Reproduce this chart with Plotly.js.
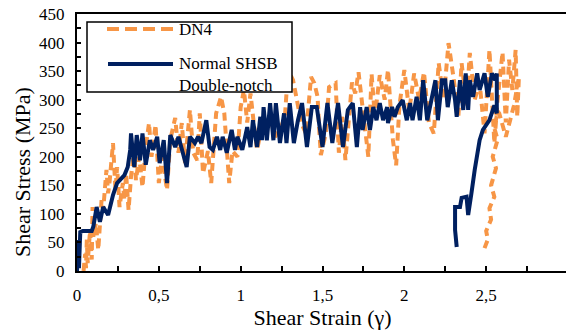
<!DOCTYPE html>
<html><head><meta charset="utf-8">
<script src="https://cdn.plot.ly/plotly-3.0.1.min.js"></script>
<style>body{margin:0;overflow:hidden}</style></head>
<body>
<div id="chart" style="width:570px;height:330px"></div>
<script>
// ---- Data ----
const seriesNames = ["DN4", "Normal SHSB", "Double-notch"];
const axisTitles = ["Shear Strain (γ)", "Shear Stress (MPa)"];

const dn4Strain = [0.04,0.05,0.055,0.06,0.065,0.07,0.08,0.09,0.095,0.10,0.115,0.13,0.14,0.15,0.16,0.18,0.19,0.20,0.22,0.235,0.245,0.26,0.28,0.29,0.30,0.315,0.33,0.35,0.36,0.38,0.40,0.42,0.44,0.455,0.48,0.50,0.52,0.55,0.57,0.60,0.62,0.64,0.66,0.69,0.71,0.735,0.75,0.77,0.80,0.82,0.85,0.88,0.90,0.93,0.95,0.98,1.0,1.02,1.04,1.06,1.08,1.10,1.12,1.15,1.18,1.21,1.24,1.27,1.29,1.32,1.34,1.37,1.40,1.43,1.45,1.47,1.48,1.49,1.52,1.54,1.58,1.60,1.62,1.64,1.68,1.70,1.72,1.76,1.78,1.80,1.82,1.85,1.88,1.90,1.93,1.95,1.97,2.0,2.03,2.06,2.09,2.12,2.15,2.18,2.21,2.24,2.27,2.30,2.33,2.35,2.38,2.40,2.43,2.46,2.49,2.52,2.55,2.57,2.60,2.62,2.64,2.66,2.68,2.69,2.70,2.67,2.62,2.58,2.57,2.55,2.57,2.54,2.56,2.53,2.55,2.52,2.53,2.50,2.51,2.49];
const dn4Stress = [0,30,5,55,14,42,72,20,112,60,84,37,89,124,107,177,136,159,224,142,182,112,154,124,171,107,165,212,159,200,147,217,259,200,256,154,200,142,230,268,207,259,189,282,207,194,276,171,210,154,276,305,276,154,210,200,287,317,260,311,259,212,240,252,270,235,247,270,352,334,305,259,240,340,329,305,247,203,241,322,329,207,270,194,330,311,348,247,200,345,270,343,300,352,230,185,290,352,280,346,300,348,260,241,364,300,399,340,270,364,290,382,300,330,241,387,224,300,383,260,370,317,387,270,340,290,235,276,280,250,230,200,180,150,130,110,90,70,55,40];

const shsbStrain = [0,0.005,0.012,0.02,0.035,0.09,0.10,0.12,0.14,0.16,0.19,0.22,0.245,0.29,0.31,0.325,0.33,0.35,0.365,0.385,0.40,0.42,0.445,0.465,0.49,0.505,0.53,0.55,0.57,0.60,0.62,0.64,0.67,0.69,0.72,0.74,0.76,0.79,0.81,0.83,0.855,0.875,0.89,0.915,0.945,0.965,0.98,1.01,1.04,1.06,1.075,1.10,1.12,1.13,1.14,1.16,1.18,1.20,1.215,1.24,1.265,1.28,1.30,1.325,1.35,1.375,1.405,1.435,1.465,1.50,1.53,1.56,1.595,1.625,1.655,1.685,1.71,1.73,1.745,1.77,1.79,1.81,1.83,1.85,1.87,1.895,1.90,1.925,1.94,1.96,1.99,2.015,2.035,2.05,2.075,2.095,2.115,2.14,2.17,2.19,2.205,2.23,2.25,2.265,2.29,2.31,2.32,2.34,2.36,2.375,2.39,2.40,2.42,2.445,2.46,2.49,2.51,2.535,2.555,2.565,2.565,2.55,2.52,2.48,2.46,2.445,2.43,2.41,2.39,2.38,2.35,2.34,2.31,2.31,2.32];
const shsbStress = [0,54,5,68,70,70,78,112,86,112,98,133,154,168,182,212,241,182,238,194,241,186,229,212,235,189,229,154,238,217,235,212,182,235,224,235,224,264,217,212,235,212,235,207,247,212,235,212,252,217,264,217,270,229,287,229,294,229,294,224,276,224,294,224,264,294,217,287,287,217,294,224,294,217,282,294,217,287,247,287,247,287,264,294,264,287,259,287,270,287,299,264,294,264,305,264,334,264,305,334,264,334,334,287,334,299,270,334,282,346,282,334,305,346,317,346,305,346,334,346,276,290,264,247,229,207,177,136,98,130,128,112,112,72,42];

const xTickVals = [0,0.5,1,1.5,2,2.5,3];
const xTickText = ["0","0,5","1","1,5","2","2,5","3"];

const NAVY = "#002060";
const ORANGE = "#F79646";
const SERIF = "Liberation Serif";

const px2x = p => (p - 77) / 491;
const py2y = p => (271 - p) / 257;

Plotly.newPlot("chart", [
  {x: dn4Strain, y: dn4Stress, name: seriesNames[0], type: "scatter", mode: "lines",
   line: {color: ORANGE, width: 4, dash: "8px,5px"}},
  {x: shsbStrain, y: shsbStress, name: seriesNames[1] + " " + seriesNames[2], type: "scatter", mode: "lines",
   line: {color: NAVY, width: 4}}
], {
  width: 570, height: 330,
  margin: {l: 77, r: 2, t: 14, b: 59},
  showlegend: false,
  separators: ", ",
  xaxis: {
    range: [0, 3], tickvals: xTickVals, ticktext: xTickText,
    showgrid: false, zeroline: false,
    showline: true, linecolor: "#000", linewidth: 2, mirror: true,
    ticks: "inside", ticklen: 5, tickwidth: 2, tickcolor: "#000",
    minor: {dtick: 0.25, ticks: "inside", ticklen: 5, tickwidth: 2, tickcolor: "#000"},
    ticklabelstandoff: 8,
    tickfont: {family: SERIF, size: 17, color: "#000"},
    title: {text: axisTitles[0], font: {family: SERIF, size: 22, color: "#000"}, standoff: 0}
  },
  yaxis: {
    range: [0, 450], dtick: 50,
    showgrid: false, zeroline: false,
    showline: true, linecolor: "#000", linewidth: 2, mirror: true,
    ticks: "inside", ticklen: 4, tickwidth: 2, tickcolor: "#000",
    minor: {dtick: 25, ticks: "inside", ticklen: 4, tickwidth: 2, tickcolor: "#000"},
    ticklabelstandoff: 7,
    tickfont: {family: SERIF, size: 17, color: "#000"}
  },
  shapes: [
    {type: "rect", xref: "paper", yref: "paper", x0: px2x(87), x1: px2x(292), y0: py2y(92), y1: py2y(22),
     line: {color: "#000", width: 1.5}, fillcolor: "#fff", layer: "above"},
    {type: "line", xref: "paper", yref: "paper", x0: px2x(107), x1: px2x(174), y0: py2y(29), y1: py2y(29),
     line: {color: ORANGE, width: 4, dash: "12px,6px"}, layer: "above"},
    {type: "line", xref: "paper", yref: "paper", x0: px2x(108), x1: px2x(173), y0: py2y(64), y1: py2y(64),
     line: {color: NAVY, width: 4}, layer: "above"}
  ],
  annotations: [
    {xref: "paper", yref: "paper", x: px2x(177), y: py2y(29), xanchor: "left", yanchor: "middle",
     text: seriesNames[0], showarrow: false, font: {family: SERIF, size: 17, color: "#000"}},
    {xref: "paper", yref: "paper", x: px2x(177), y: py2y(64), xanchor: "left", yanchor: "middle",
     text: seriesNames[1], showarrow: false, font: {family: SERIF, size: 17, color: "#000"}},
    {xref: "paper", yref: "paper", x: px2x(177), y: py2y(85), xanchor: "left", yanchor: "middle",
     text: seriesNames[2], showarrow: false, font: {family: SERIF, size: 17, color: "#000"}},
    {xref: "paper", yref: "paper", x: px2x(22), y: py2y(172), xanchor: "center", yanchor: "middle",
     text: axisTitles[1], textangle: -90, showarrow: false, font: {family: SERIF, size: 22, color: "#000"}}
  ]
}, {displayModeBar: false}).then(function () {
  document.querySelectorAll("#chart text").forEach(function (t) {
    t.style.setProperty("font-family", "'Liberation Serif', serif", "important");
  });
});
</script>
</body></html>
